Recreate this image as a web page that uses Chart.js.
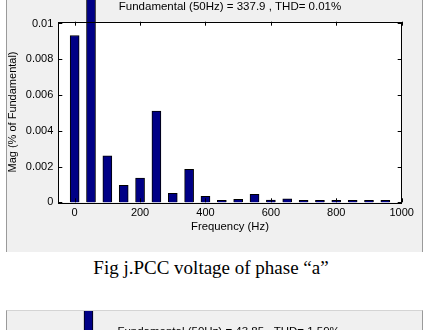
<!DOCTYPE html>
<html>
<head>
<meta charset="utf-8">
<script src="https://cdn.jsdelivr.net/npm/chart.js@4"></script>
<style>
    body { margin: 0; background: #fff; width: 429px; height: 330px; position: relative; overflow: hidden; }
    .panel { position: absolute; left: 6px; width: 415px; background: #f0f0f0; border-left: 1px solid #9a9a9a; border-right: 1px solid #9a9a9a; overflow: hidden; }
    #topPanel { top: 0; height: 252px; }
    #bottomPanel { top: 310px; height: 20px; border-top: 1px solid #d4d4d4; }
    .panel canvas { position: absolute; left: 0; top: 0; }
    #caption { position: absolute; left: 0; width: 422px; top: 258px; line-height: 19px; text-align: center;
        font-family: 'Liberation Serif', 'Times New Roman', serif; font-size: 19px; color: #000; white-space: nowrap; }
</style>
</head>
<body>
<div class="panel" id="topPanel"><canvas id="spectrumChart" width="415" height="252"></canvas></div>
<div id="caption">Fig j.PCC voltage of phase “a”</div>
<div class="panel" id="bottomPanel"><canvas id="currentChart" width="415" height="252"></canvas></div>

<script>
// Harmonic spectrum, PCC voltage phase "a"
const freqs = [0, 50, 100, 150, 200, 250, 300, 350, 400, 450, 500, 550, 600, 650, 700, 750, 800, 850, 900, 950];
const mags = [0.00933, 1.0, 0.0026, 0.00095, 0.00135, 0.0051, 0.0005, 0.00185, 0.00034, 0.00005,
              0.00016, 0.00045, 0.00012, 0.0002, 0.00005, 0.00004, 0.00005, 0.00004, 0.00004, 0.00004];
const xTicks = [0, 200, 400, 600, 800, 1000];
const yTicks = [0, 0.002, 0.004, 0.006, 0.008, 0.01];
const topTitle = 'Fundamental (50Hz) = 337.9 , THD= 0.01%';

// Second figure (only its top edge is visible)
const freqs2 = [50];
const mags2 = [100];
const bottomTitle = 'Fundamental (50Hz) = 43.85 , THD= 1.59%';

const FONT = "'Liberation Sans', Arial, sans-serif";
const BAR_COLOR = '#000086';

// Matlab style axes box: white background, black frame, inward ticks
const axesBox = {
    id: 'axesBox',
    beforeDatasetsDraw(chart) {
        const { ctx, chartArea: a } = chart;
        ctx.save();
        ctx.fillStyle = '#fff';
        ctx.fillRect(a.left, a.top, a.right - a.left, a.bottom - a.top);
        ctx.restore();
    },
    afterDatasetsDraw(chart) {
        const { ctx, chartArea: a, scales } = chart;
        ctx.save();
        ctx.strokeStyle = '#000';
        ctx.lineWidth = 1;
        ctx.strokeRect(Math.round(a.left) + 0.5, Math.round(a.top) + 0.5,
            Math.round(a.right - a.left), Math.round(a.bottom - a.top));
        ctx.beginPath();
        scales.x.ticks.forEach(t => {
            const px = Math.round(scales.x.getPixelForValue(t.value)) + 0.5;
            ctx.moveTo(px, a.bottom); ctx.lineTo(px, a.bottom - 4);
            ctx.moveTo(px, a.top); ctx.lineTo(px, a.top + 4);
        });
        scales.y.ticks.forEach(t => {
            const py = Math.round(scales.y.getPixelForValue(t.value)) + 0.5;
            ctx.moveTo(a.left, py); ctx.lineTo(a.left + 4, py);
            ctx.moveTo(a.right, py); ctx.lineTo(a.right - 4, py);
        });
        ctx.stroke();
        ctx.restore();
    }
};

function makeSpectrum(canvasId, xs, ys, title, opts) {
    const ctx = document.getElementById(canvasId).getContext('2d');
    return new Chart(ctx, {
        type: 'bar',
        data: {
            datasets: [{
                data: xs.map((f, i) => ({ x: f, y: ys[i] })),
                backgroundColor: BAR_COLOR,
                borderColor: '#000',
                borderWidth: 1,
                barThickness: 9,
                minBarLength: 2,
                clip: false
            }]
        },
        options: {
            responsive: false,
            animation: false,
            devicePixelRatio: 1,
            layout: { padding: { left: 0, right: 20.3, top: 0, bottom: 0 } },
            plugins: {
                legend: { display: false },
                tooltip: { enabled: false },
                title: {
                    display: true,
                    text: title,
                    fullSize: false,
                    color: '#000',
                    font: { family: FONT, size: 11.5, weight: 'normal', lineHeight: 1.2 },
                    padding: { top: opts.titleTop, bottom: 7.9 }
                }
            },
            scales: {
                x: {
                    type: 'linear',
                    min: -50,
                    max: 1000,
                    offset: false,
                    grid: { display: false, drawTicks: false },
                    border: { display: false },
                    afterBuildTicks: s => { s.ticks = xTicks.map(v => ({ value: v })); },
                    ticks: {
                        color: '#000',
                        padding: 4,
                        maxRotation: 0,
                        font: { family: FONT, size: 11 },
                        callback: v => String(v)
                    },
                    title: {
                        display: true,
                        text: 'Frequency (Hz)',
                        color: '#000',
                        font: { family: FONT, size: 11.3 },
                        padding: { top: 0, bottom: 18.2 }
                    },
                    afterFit: s => { s.height = 49.7; }
                },
                y: {
                    min: 0,
                    max: opts.yMax,
                    grid: { display: false, drawTicks: false },
                    border: { display: false },
                    afterBuildTicks: s => { s.ticks = opts.yTicks.map(v => ({ value: v })); },
                    ticks: {
                        color: '#000',
                        padding: 5,
                        font: { family: FONT, size: 11 },
                        callback: v => String(Number(v.toFixed(4)))
                    },
                    title: {
                        display: true,
                        text: 'Mag (% of Fundamental)',
                        color: '#000',
                        font: { family: FONT, size: 11, lineHeight: 1 },
                        padding: 0
                    },
                    afterFit: s => { s.width = opts.yWidth; }
                }
            }
        },
        plugins: [axesBox]
    });
}

makeSpectrum('spectrumChart', freqs, mags, topTitle, { titleTop: 0, yMax: 0.0101, yTicks: yTicks, yWidth: 51.3 });
makeSpectrum('currentChart', freqs2, mags2, bottomTitle, { titleTop: 14, yMax: 1.6, yTicks: [0, 0.5, 1, 1.5], yWidth: 48.5 });
</script>
</body>
</html>
